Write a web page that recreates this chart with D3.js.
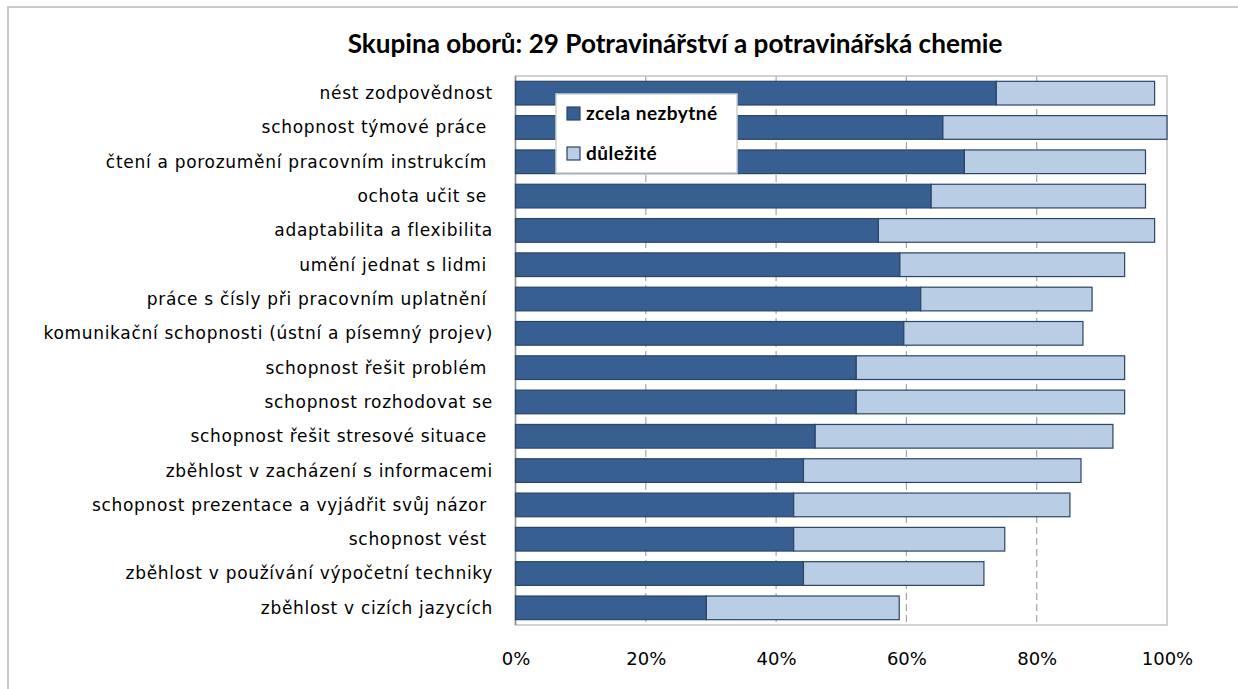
<!DOCTYPE html>
<html>
<head>
<meta charset="utf-8">
<script src="https://cdn.jsdelivr.net/npm/d3@7"></script>
<style>
    body { margin: 0; background: #fff; }
    svg text { white-space: pre; }
</style>
</head>
<body>
<div id="container"></div>
<script>
// data, top bar first
const categories = [
    "nést zodpovědnost",
    "schopnost týmové práce ",
    "čtení a porozumění pracovním instrukcím ",
    "ochota učit se ",
    "adaptabilita a flexibilita",
    "umění jednat s lidmi ",
    "práce s čísly při pracovním uplatnění ",
    "komunikační schopnosti (ústní a písemný projev)",
    "schopnost řešit problém ",
    "schopnost rozhodovat se",
    "schopnost řešit stresové situace ",
    "zběhlost v zacházení s informacemi",
    "schopnost prezentace a vyjádřit svůj názor ",
    "schopnost vést ",
    "zběhlost v používání výpočetní techniky",
    "zběhlost v cizích jazycích"
];
const zcelaNezbytne = [0.738, 0.656, 0.689, 0.638, 0.557, 0.590, 0.622, 0.596, 0.523, 0.523, 0.460, 0.442, 0.427, 0.427, 0.442, 0.293];
const dulezite      = [0.243, 0.344, 0.278, 0.329, 0.424, 0.345, 0.263, 0.275, 0.412, 0.412, 0.457, 0.426, 0.424, 0.324, 0.277, 0.296];
const seriesNames = ["zcela nezbytné", "důležité"];
const xTicks = [0, 0.2, 0.4, 0.6, 0.8, 1];
const title = "Skupina oborů: 29 Potravinářství a potravinářská chemie";

const W = 1238, H = 689;
const plot = { left: 515.5, right: 1167, top: 76, bottom: 625 };
const colors = ["#375f91", "#b9cde5"];

const svg = d3.select("#container").append("svg")
    .attr("width", W).attr("height", H);

// outer chart frame
svg.append("rect")
    .attr("x", 8).attr("y", 7).attr("width", W + 20).attr("height", H + 20)
    .attr("fill", "#fff").attr("stroke", "#c9c9c9").attr("stroke-width", 2);

const x = d3.scaleLinear().domain([0, 1]).range([plot.left, plot.right]);
const y = d3.scaleBand().domain(categories).range([plot.top, plot.bottom])
    .paddingInner(0.31).paddingOuter(0.155);

// title, sized to span the same width as the original
const t = svg.append("text")
    .attr("x", 675).attr("y", 53)
    .attr("text-anchor", "middle")
    .attr("font-family", "Lato, 'Open Sans', sans-serif")
    .attr("font-weight", "bold")
    .attr("font-size", 20)
    .attr("fill", "#000")
    .text(title);
const tw = t.node().getComputedTextLength();
t.attr("font-size", 20 * 655 / tw);

// dashed gridlines
svg.append("g").selectAll("line")
    .data(xTicks.filter(d => d > 0 && d < 1))
    .join("line")
    .attr("x1", d => x(d)).attr("x2", d => x(d))
    .attr("y1", plot.top).attr("y2", plot.bottom)
    .attr("stroke", "#a6a6a6").attr("stroke-width", 1.2)
    .attr("stroke-dasharray", "7,4");

// plot frame
svg.append("rect")
    .attr("x", plot.left).attr("y", plot.top)
    .attr("width", plot.right - plot.left).attr("height", plot.bottom - plot.top)
    .attr("fill", "none").attr("stroke", "#c3c3c3").attr("stroke-width", 1.5);
svg.append("line")
    .attr("x1", plot.left).attr("x2", plot.left)
    .attr("y1", plot.top).attr("y2", plot.bottom)
    .attr("stroke", "#8c8c8c").attr("stroke-width", 1.5);

// stacked bars
const rows = categories.map((c, i) => ({ cat: c, a: zcelaNezbytne[i], b: dulezite[i] }));
const stacked = d3.stack().keys(["a", "b"])(rows);

svg.append("g").selectAll("g")
    .data(stacked)
    .join("g")
    .attr("fill", (d, i) => colors[i])
    .selectAll("rect")
    .data(d => d)
    .join("rect")
    .attr("x", d => x(d[0]))
    .attr("y", d => y(d.data.cat))
    .attr("width", d => x(d[1]) - x(d[0]))
    .attr("height", y.bandwidth())
    .attr("stroke", "#2a4568")
    .attr("stroke-width", 1.2);

// category labels
svg.append("g").selectAll("text")
    .data(categories)
    .join("text")
    .attr("x", 493)
    .attr("y", d => y(d) + y.bandwidth() / 2)
    .attr("dy", "0.35em")
    .attr("text-anchor", "end")
    .attr("font-family", "'DejaVu Sans', Verdana, sans-serif")
    .attr("font-size", 17)
    .attr("letter-spacing", 0.7)
    .attr("fill", "#000")
    .text(d => d);

// x axis labels
const xAxis = svg.append("g")
    .attr("transform", `translate(0,${plot.bottom})`)
    .call(d3.axisBottom(x).tickValues(xTicks).tickFormat(d3.format(".0%")).tickSize(0).tickPadding(27));
xAxis.select(".domain").remove();
xAxis.selectAll("text")
    .attr("font-family", "'DejaVu Sans', Verdana, sans-serif")
    .attr("font-size", 18)
    .attr("fill", "#000");

// legend
const lg = svg.append("g").attr("transform", "translate(556,94)");
lg.append("rect")
    .attr("width", 181).attr("height", 79)
    .attr("fill", "#fff").attr("stroke", "#cfcfcf").attr("stroke-width", 1.5);
const li = lg.selectAll("g.item")
    .data(seriesNames)
    .join("g")
    .attr("class", "item")
    .attr("transform", (d, i) => `translate(11,${19 + i * 40})`);
li.append("rect")
    .attr("y", -6).attr("width", 13).attr("height", 13)
    .attr("fill", (d, i) => colors[i])
    .attr("stroke", "#2a4568").attr("stroke-width", 1.2);
li.append("text")
    .attr("x", 19).attr("dy", "0.35em")
    .attr("font-family", "Lato, 'Open Sans', sans-serif")
    .attr("font-weight", "bold")
    .attr("font-size", 19)
    .attr("letter-spacing", 0.5)
    .attr("fill", "#000")
    .text(d => d);
</script>
</body>
</html>
